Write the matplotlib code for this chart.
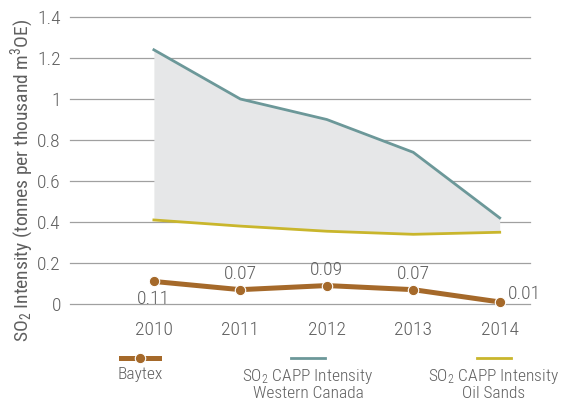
import matplotlib.pyplot as plt
from matplotlib.lines import Line2D

years = [2010, 2011, 2012, 2013, 2014]
baytex = [0.11, 0.07, 0.09, 0.07, 0.01]
western_canada = [1.24, 1.0, 0.9, 0.74, 0.42]
oil_sands = [0.41, 0.38, 0.355, 0.34, 0.35]
baytex_labels = ['0.11', '0.07', '0.09', '0.07', '0.01']

GREY_TXT = '#5f5f5f'
BROWN = '#a5692a'
TEAL = '#6c9899'
OLIVE = '#c9b62c'

plt.rcParams['font.family'] = ['Roboto Condensed', 'DejaVu Sans']
plt.rcParams['font.weight'] = 'light'
plt.rcParams['mathtext.default'] = 'regular'
FS = 14
LEG_FS = 12.5

fig = plt.figure(figsize=(5.62, 4.04), dpi=100)
ax = fig.add_axes([0.1246, 0.2475, 0.8184, 0.7104])

ax.fill_between(years, oil_sands, western_canada, color='#e6e7e8', lw=0, zorder=1)
ax.plot(years, western_canada, color=TEAL, lw=2, zorder=3)
ax.plot(years, oil_sands, color=OLIVE, lw=2, zorder=3)
ax.plot(years, baytex, color=BROWN, lw=3.6, marker='o', ms=7.5,
        mec='white', mew=0.8, zorder=4, clip_on=False)

# label placement per point: (dx, dy, ha, va) in points
offsets = [(0, -6, 'center', 'top'), (0, 5, 'center', 'bottom'),
           (0, 5, 'center', 'bottom'), (0, 5, 'center', 'bottom'),
           (6, 6, 'left', 'center')]
for x, y, lab, (dx, dy, ha, va) in zip(years, baytex, baytex_labels, offsets):
    ax.annotate(lab, (x, y), xytext=(dx, dy), textcoords='offset points',
                ha=ha, va=va, fontsize=FS, color=GREY_TXT)

ax.set_xlim(2009.03, 2014.35)
ax.set_ylim(0, 1.4)
ax.set_yticks([0, 0.2, 0.4, 0.6, 0.8, 1.0, 1.2, 1.4])
ax.set_yticklabels(['0', '0.2', '0.4', '0.6', '0.8', '1', '1.2', '1.4'])
ax.set_xticks(years)
for v in ax.get_yticks():
    ax.axhline(v, color='#a0a0a0', lw=0.9, zorder=0, clip_on=False)
ax.tick_params(length=0, labelsize=FS, colors=GREY_TXT)
ax.tick_params(axis='x', pad=12)
ax.tick_params(axis='y', pad=6.5)
for s in ax.spines.values():
    s.set_visible(False)
ax.set_facecolor('none')

ax.set_ylabel('SO$_2$ Intensity (tonnes per thousand m$^3$OE)', fontsize=14,
              color=GREY_TXT)
ax.yaxis.set_label_coords(-0.074, 0.43)

# legend drawn by hand: handle above label
legend = [
    ('Baytex', 0.249, 0.034, True, BROWN),
    ('SO$_2$ CAPP Intensity\nWestern Canada', 0.548, 0.031, False, TEAL),
    ('SO$_2$ CAPP Intensity\nOil Sands', 0.879, 0.031, False, OLIVE),
]
for lab, cx, hw, is_marker, col in legend:
    if is_marker:
        line = Line2D([cx - hw, cx, cx + hw], [0.114] * 3, transform=fig.transFigure,
                      color=col, lw=3.6, marker='o', ms=7.5, mec='white', mew=0.8,
                      markevery=[1])
    else:
        line = Line2D([cx - hw, cx + hw], [0.114] * 2, transform=fig.transFigure,
                      color=col, lw=2)
    fig.add_artist(line)
    fig.text(cx, 0.092, lab, ha='center', va='top', fontsize=LEG_FS,
             color=GREY_TXT, linespacing=1.05)

fig.savefig('out.png', dpi=100)
